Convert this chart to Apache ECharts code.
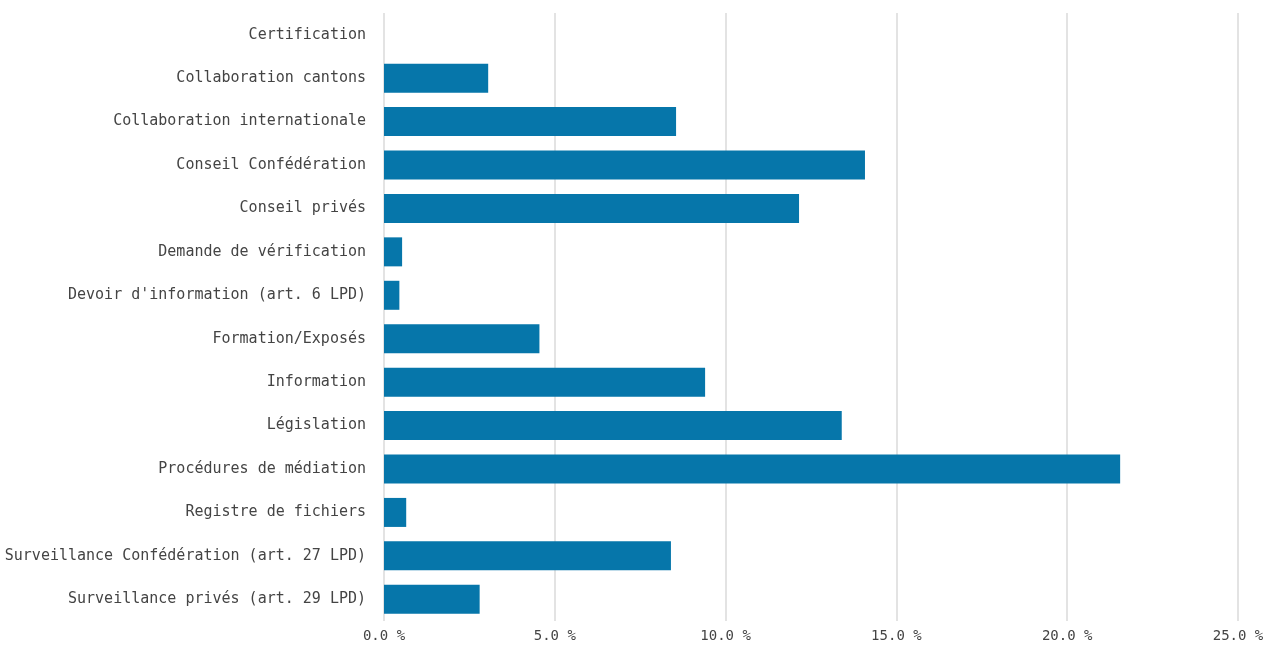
<!DOCTYPE html>
<html>
<head>
<meta charset="utf-8">
<script src="https://cdn.jsdelivr.net/npm/echarts@6/dist/echarts.min.js"></script>
<style>
  html, body { margin: 0; padding: 0; background: #ffffff; }
  #chart { width: 1268px; height: 645px; }
</style>
</head>
<body>
<div id="chart"></div>
<script>
// Activity categories, listed top to bottom
const categories = [
  'Certification',
  'Collaboration cantons',
  'Collaboration internationale',
  'Conseil Confédération',
  'Conseil privés',
  'Demande de vérification',
  "Devoir d'information (art. 6 LPD)",
  'Formation/Exposés',
  'Information',
  'Législation',
  'Procédures de médiation',
  'Registre de fichiers',
  'Surveillance Confédération (art. 27 LPD)',
  'Surveillance privés (art. 29 LPD)'
];

// Share of total workload, in percent
const shares = [0, 3.05, 8.55, 14.08, 12.15, 0.53, 0.45, 4.55, 9.4, 13.4, 21.55, 0.65, 8.4, 2.8];

// Value axis ticks
const axisMin = 0;
const axisMax = 25;
const axisStep = 5;

const chart = echarts.init(document.getElementById('chart'));
const mono = '"DejaVu Sans Mono", "Liberation Mono", monospace';

chart.setOption({
  animation: false,
  grid: { left: 384, right: 30, top: 13, bottom: 24, containLabel: false },
  xAxis: {
    type: 'value',
    min: axisMin,
    max: axisMax,
    interval: axisStep,
    axisLine: { show: false },
    axisTick: { show: false },
    splitLine: { show: true, lineStyle: { color: '#e3e3e3', width: 2 } },
    axisLabel: {
      color: '#444',
      fontFamily: mono,
      fontSize: 14,
      margin: 8,
      formatter: v => v.toFixed(1) + ' %'
    }
  },
  yAxis: {
    type: 'category',
    data: categories,
    inverse: true,
    axisLine: { show: false },
    axisTick: { show: false },
    splitLine: { show: false },
    axisLabel: {
      color: '#444',
      fontFamily: mono,
      fontSize: 15,
      margin: 18,
      padding: [4, 0, 0, 0]
    }
  },
  series: [{
    type: 'bar',
    data: shares,
    barWidth: 29,
    itemStyle: { color: '#0676aa' }
  }]
});
</script>
</body>
</html>
